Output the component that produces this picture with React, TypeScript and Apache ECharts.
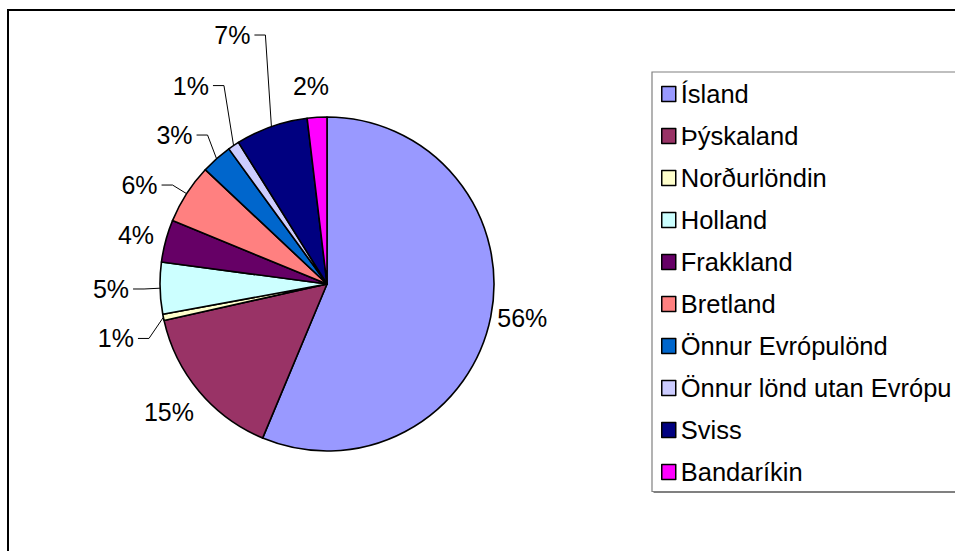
import React, { useEffect, useRef } from 'react';
import * as echarts from 'echarts';

const categories = [
  'Ísland',
  'Þýskaland',
  'Norðurlöndin',
  'Holland',
  'Frakkland',
  'Bretland',
  'Önnur Evrópulönd',
  'Önnur lönd utan Evrópu',
  'Sviss',
  'Bandaríkin',
];
const shares = [56.3, 15.2, 0.6, 5.0, 4.1, 5.8, 3.0, 1.1, 7.0, 1.9];
const palette = [
  '#9999FF',
  '#993366',
  '#FFFFCC',
  '#CCFFFF',
  '#660066',
  '#FF8080',
  '#0066CC',
  '#CCCCFF',
  '#000080',
  '#FF00FF',
];
// label placement relative to each slice's edge anchor (layout only)
const labelOffsets: [number, number][] = [
  [6.5, 1.5],
  [-5, 20.3],
  [-29.4, 21.1],
  [-31, 0.8],
  [-11.6, -5.9],
  [-29, -8.6],
  [-24, -23.7],
  [-24.6, -60],
  [-21, -91.5],
  [12, -31],
];
const hasLeader = [false, false, true, true, false, true, true, true, true, false];

const CX = 327;
const CY = 284;
const R = 167;
const FONT = '"Liberation Sans", Arial, sans-serif';

export default function App() {
  const ref = useRef<HTMLDivElement>(null);
  useEffect(() => {
    const chart = echarts.init(ref.current!, null, { renderer: 'svg' });
    const total = shares.reduce((a, b) => a + b, 0);
    const anchors: [number, number, number][] = [];
    let acc = 0;
    shares.forEach((v) => {
      const mid = ((acc + v / 2) / total) * Math.PI * 2;
      acc += v;
      const sx = Math.sin(mid);
      const sy = -Math.cos(mid);
      anchors.push([CX + R * sx, CY + R * sy, sx]);
    });

    chart.setOption({
      animation: false,
      backgroundColor: '#fff',
      graphic: [
        {
          type: 'rect',
          z: 1,
          shape: { x: 8, y: 10, width: 1000, height: 600 },
          style: { fill: 'none', stroke: '#000', lineWidth: 2 },
        },
        {
          type: 'rect',
          z: 1,
          shape: { x: 653.5, y: 73.5, width: 400, height: 419.5 },
          style: { fill: '#808080' },
        },
        {
          type: 'rect',
          z: 1,
          shape: { x: 652, y: 72, width: 400, height: 419.5 },
          style: { fill: '#fff', stroke: '#808080', lineWidth: 1.2 },
        },
      ],
      legend: {
        orient: 'vertical',
        left: 661,
        top: 81,
        padding: 0,
        icon: 'rect',
        itemWidth: 14,
        itemHeight: 15,
        itemGap: 16.0,
        selectedMode: false,
        z: 5,
        itemStyle: { borderColor: '#000', borderWidth: 1.5 },
        textStyle: { fontSize: 25.5, color: '#000', fontFamily: FONT },
        data: categories,
      },
      series: [
        {
          type: 'pie',
          z: 3,
          center: [CX, CY],
          radius: R,
          startAngle: 90,
          clockwise: true,
          avoidLabelOverlap: false,
          itemStyle: { borderColor: '#000', borderWidth: 1.6 },
          emphasis: { disabled: true },
          label: {
            show: true,
            position: 'outside',
            fontSize: 25,
            color: '#000',
            fontFamily: FONT,
            formatter: (p: any) => Math.round(p.percent) + '%',
          },
          labelLine: { show: true, lineStyle: { color: '#000', width: 1 } },
          labelLayout: (p: any) => {
            const i = p.dataIndex;
            const [ax, ay, sx] = anchors[i];
            const [ox, oy] = labelOffsets[i];
            const toRight = sx >= 0;
            const x = ax + ox;
            const y = ay + oy;
            const res: any = {
              x,
              y,
              align: toRight ? 'left' : 'right',
              verticalAlign: 'middle',
            };
            if (hasLeader[i]) {
              const s = toRight ? -1 : 1;
              res.labelLinePoints = [
                [ax, ay],
                [x + s * 15, y],
                [x + s * 4, y],
              ];
            }
            return res;
          },
          data: categories.map((name, i) => ({
            name,
            value: shares[i],
            itemStyle: { color: palette[i] },
            labelLine: { show: hasLeader[i] },
          })),
        },
      ],
    });
    return () => chart.dispose();
  }, []);
  return (
    <div
      ref={ref}
      style={{ position: 'fixed', left: 0, top: 0, width: 955, height: 551 }}
    />
  );
}
